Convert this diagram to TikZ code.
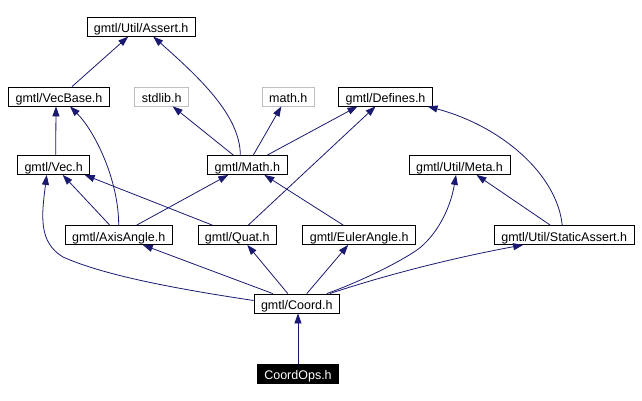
\documentclass[tikz,border=0pt]{standalone}
\usepackage{fontspec}
\setmainfont{Liberation Sans}
\usepackage{xcolor}
\usepackage{tikz}
\usetikzlibrary{arrows.meta}
\definecolor{gmedge}{HTML}{191970}
\definecolor{gmgray}{HTML}{BFBFBF}

\begin{document}
\begin{tikzpicture}[x=1pt,y=-1pt,
  hfile/.style={draw=black,line width=0.8pt,inner xsep=7pt,inner ysep=3.5pt,
      minimum height=19pt,text height=12pt,text depth=0pt,
      font=\fontsize{12.5}{14}\selectfont},
  sysfile/.style={hfile,draw=gmgray},
  topfile/.style={hfile,fill=black,text=white},
  dep/.style={draw=gmedge,line width=0.8pt,-{Triangle[length=10pt,width=7pt]}}]
\useasboundingbox (0,0) rectangle (642,401);

\node[hfile] (assert) at (141.2,26.7) {gmtl/Util/Assert.h};
\node[hfile] (vecbase) at (59,96.5) {gmtl/VecBase.h};
\node[sysfile] (stdlib) at (161.7,96.5) {stdlib.h};
\node[sysfile] (mathh) at (288.3,96.5) {math.h};
\node[hfile] (defines) at (385.5,96.5) {gmtl/Defines.h};
\node[hfile] (vec) at (53.7,165) {gmtl/Vec.h};
\node[hfile] (math) at (247.3,165) {gmtl/Math.h};
\node[hfile] (meta) at (459.5,165) {gmtl/Util/Meta.h};
\node[hfile] (axisangle) at (118.7,235) {gmtl/AxisAngle.h};
\node[hfile] (quat) at (237.3,235) {gmtl/Quat.h};
\node[hfile] (euler) at (359.2,235) {gmtl/EulerAngle.h};
\node[hfile] (static) at (564.2,235) {gmtl/Util/StaticAssert.h};
\node[hfile] (coord) at (296.8,303.5) {gmtl/Coord.h};
\node[topfile] (coordops) at (298,373.5) {CoordOps.h};

% includes, child to parent
\draw[dep] ([xshift=13pt]vecbase.north) -- ([xshift=-13pt]assert.south);
\draw[dep] ([xshift=-7pt]math.north) .. controls +(0,-40) and +(45,40) .. ([xshift=12pt]assert.south);
\draw[dep] ([xshift=2pt]vec.north) -- ([xshift=-3pt]vecbase.south);
\draw[dep] (axisangle.north) .. controls +(0,-45) and +(25,25) .. ([xshift=11pt]vecbase.south);
\draw[dep] ([xshift=-14pt]math.north) -- ([xshift=11pt]stdlib.south);
\draw[dep] ([xshift=6pt]math.north) -- ([xshift=-7pt]mathh.south);
\draw[dep] ([xshift=20pt]math.north) -- ([xshift=-28pt]defines.south);
\draw[dep] ([xshift=11pt]quat.north) -- ([xshift=-10pt]defines.south);
\draw[dep] ([xshift=-2pt]static.north) .. controls +(-5,-50) and +(75,20) .. ([xshift=42pt]defines.south);
\draw[dep] ([xshift=-9pt]axisangle.north) -- ([xshift=9pt]vec.south);
\draw[dep] ([xshift=-25pt]quat.north) -- ([xshift=31pt]vec.south);
\draw[dep] ([xshift=18pt]axisangle.north) -- ([xshift=-19pt]math.south);
\draw[dep] ([xshift=-16pt]euler.north) -- ([xshift=17pt]math.south);
\draw[dep] ([xshift=-14pt]static.north) -- ([xshift=17pt]meta.south);
\draw[dep] ([yshift=3pt]coord.west) .. controls +(-80,-12) and +(40,18) .. (63,257)
  .. controls +(-25,-15) and +(-5,40) .. ([xshift=-7pt]vec.south);
\draw[dep] ([xshift=-24pt]coord.north) -- ([xshift=24pt]axisangle.south);
\draw[dep] ([xshift=-9pt]coord.north) -- ([xshift=10pt]quat.south);
\draw[dep] ([xshift=10pt]coord.north) -- ([xshift=-11pt]euler.south);
\draw[dep] ([xshift=30pt]coord.north) .. controls +(28,-10) and +(-22,15) .. (417,250)
  .. controls +(18,-13) and +(-6,36) .. ([xshift=-3.5pt]meta.south);
\draw[dep] ([xshift=33pt]coord.north) .. controls +(60,-20) and +(-65,12) .. ([xshift=-41pt]static.south);
\draw[dep] (coordops.north) -- (coordops.north |- coord.south);
\end{tikzpicture}
\end{document}
